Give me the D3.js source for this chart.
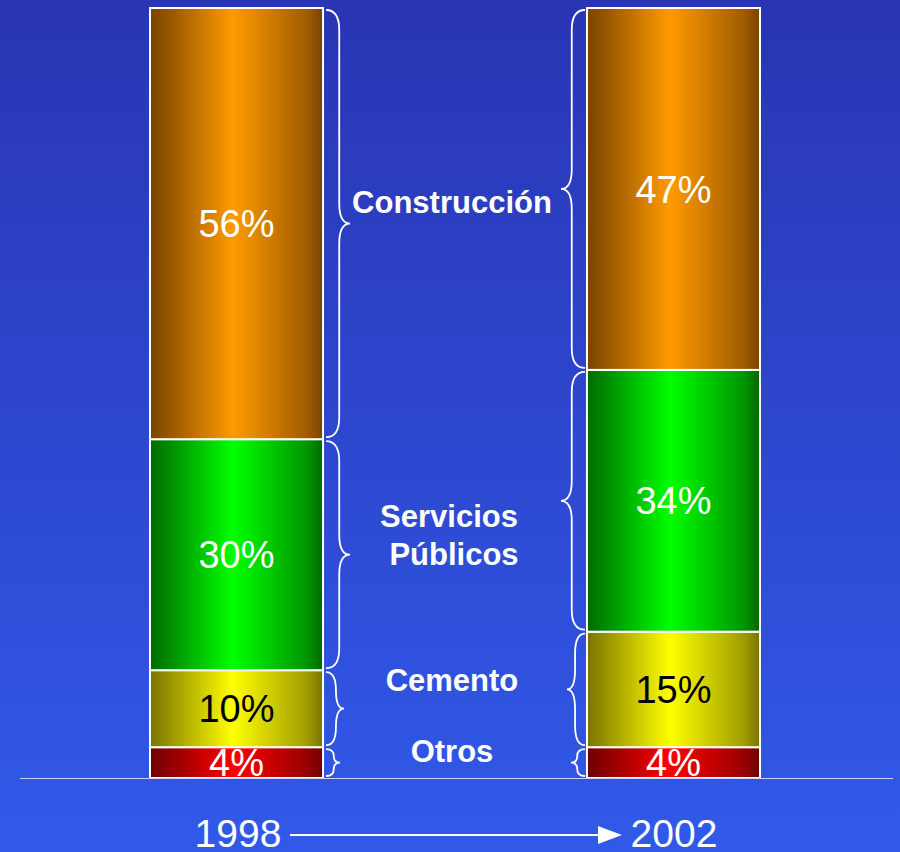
<!DOCTYPE html>
<html>
<head>
<meta charset="utf-8">
<script src="https://cdn.jsdelivr.net/npm/d3@7"></script>
<style>
  html, body { margin: 0; padding: 0; }
  body { width: 900px; height: 852px; overflow: hidden; }
  svg { display: block; font-family: "Liberation Sans", Arial, sans-serif; }
</style>
</head>
<body>
<div id="chart"></div>
<script>
// DATA
const years = ["1998", "2002"];
const categories = ["Otros", "Cemento", "Servicios Públicos", "Construcción"];
const values1998 = [4, 10, 30, 56];
const values2002 = [4, 15, 34, 47];
const labelLines = [["Otros"], ["Cemento"], ["Servicios", "Públicos"], ["Construcción"]];

// colours per category: [dark edge, bright centre, text colour]
const palette = {
  "Otros": ["#6e0000", "#ff0000", "#ffffff"],
  "Cemento": ["#7a7400", "#ffff00", "#000000"],
  "Servicios Públicos": ["#006a00", "#00ff00", "#ffffff"],
  "Construcción": ["#784400", "#ff9a00", "#ffffff"]
};

const W = 900, H = 852;
const svg = d3.select("#chart").append("svg")
  .attr("width", W).attr("height", H);
const defs = svg.append("defs");

// background
const bg = defs.append("linearGradient").attr("id", "bg")
  .attr("x1", 0).attr("y1", 0).attr("x2", 0).attr("y2", 1);
bg.append("stop").attr("offset", "0%").attr("stop-color", "#2935b3");
bg.append("stop").attr("offset", "100%").attr("stop-color", "#3159e9");
svg.append("rect").attr("width", W).attr("height", H).attr("fill", "url(#bg)");

// cylinder gradients
categories.forEach((c, i) => {
  const [dark, bright] = palette[c];
  const g = defs.append("linearGradient").attr("id", "grad" + i)
    .attr("x1", 0).attr("y1", 0).attr("x2", 1).attr("y2", 0);
  g.append("stop").attr("offset", "0%").attr("stop-color", dark);
  g.append("stop").attr("offset", "10%").attr("stop-color", d3.interpolateRgb(dark, bright)(0.2));
  g.append("stop").attr("offset", "48%").attr("stop-color", bright);
  g.append("stop").attr("offset", "90%").attr("stop-color", d3.interpolateRgb(dark, bright)(0.3));
  g.append("stop").attr("offset", "100%").attr("stop-color", dark);
});

// scales
const x = d3.scaleBand().domain(years).range([150, 760]).paddingInner(0.604).paddingOuter(0);
const y = d3.scaleLinear().domain([0, 100]).range([778, 8]);

defs.append("clipPath").attr("id", "base-clip")
  .append("rect").attr("x", 0).attr("y", 0).attr("width", W).attr("height", 778);

// stack each year's shares bottom-up
function stackYear(year) {
  const vals = year === "1998" ? values1998 : values2002;
  let acc = 0;
  return categories.map((c, i) => {
    const d = { year, cat: c, idx: i, v: vals[i], y0: acc, y1: acc + vals[i] };
    acc += vals[i];
    return d;
  });
}
const segments = years.flatMap(stackYear);

const barG = svg.append("g").attr("clip-path", "url(#base-clip)");

barG.selectAll(".seg").data(segments).join("rect")
  .attr("class", "seg")
  .attr("x", d => x(d.year))
  .attr("y", d => y(d.y1))
  .attr("width", x.bandwidth())
  .attr("height", d => y(d.y0) - y(d.y1))
  .attr("fill", d => "url(#grad" + d.idx + ")")
  .attr("stroke", "#ffffff")
  .attr("stroke-width", 2);

barG.selectAll(".pct").data(segments).join("text")
  .attr("class", "pct")
  .attr("x", d => x(d.year) + x.bandwidth() / 2)
  .attr("y", d => (y(d.y0) + y(d.y1)) / 2)
  .attr("dy", "0.36em")
  .attr("text-anchor", "middle")
  .attr("font-size", 38)
  .attr("fill", d => palette[d.cat][2])
  .text(d => d.v + "%");

// curly braces
function brace(xb, ya, yb, w, dir) {
  const ym = (ya + yb) / 2;
  const r = Math.min(20, (yb - ya) / 4);
  const xm = xb + dir * w * 0.55;
  const xt = xb + dir * w;
  return `M${xb},${ya}` +
    `Q${xm},${ya} ${xm},${ya + r}` +
    `L${xm},${ym - r}` +
    `Q${xm},${ym} ${xt},${ym}` +
    `Q${xm},${ym} ${xm},${ym + r}` +
    `L${xm},${yb - r}` +
    `Q${xm},${yb} ${xb},${yb}`;
}

svg.selectAll(".brace").data(segments).join("path")
  .attr("class", "brace")
  .attr("d", d => {
    const left = d.year === "1998";
    const xb = left ? x(d.year) + x.bandwidth() + 3 : x(d.year) - 2;
    const w = d.v < 8 ? 14 : (d.v < 20 ? 18 : 24);
    return brace(xb, y(d.y1) + 2, y(d.y0) - 2, w, left ? 1 : -1);
  })
  .attr("fill", "none")
  .attr("stroke", "#ffffff")
  .attr("stroke-width", 1.8);

// category labels between the bars
const labelY = [751, 680, 535, 202];
const midX = 452;
svg.selectAll(".cat").data(categories).join("text")
  .attr("class", "cat")
  .attr("text-anchor", "middle")
  .attr("font-size", 31)
  .attr("font-weight", "bold")
  .attr("fill", "#ffffff")
  .each(function (c, i) {
    const lines = labelLines[i];
    const t = d3.select(this);
    lines.forEach((ln, k) => {
      t.append("tspan")
        .attr("x", midX + (lines.length > 1 ? (k === 0 ? -3 : 2) : 0))
        .attr("y", labelY[i] + (k - (lines.length - 1) / 2) * 38)
        .attr("dy", "0.35em")
        .text(ln);
    });
  });

// baseline
svg.append("line")
  .attr("x1", 20).attr("x2", 893)
  .attr("y1", 778.5).attr("y2", 778.5)
  .attr("stroke", "#c8d2ff").attr("stroke-width", 1);

// years and arrow
svg.selectAll(".year").data(years).join("text")
  .attr("class", "year")
  .attr("x", (d, i) => i === 0 ? 238 : 674)
  .attr("y", 847)
  .attr("text-anchor", "middle")
  .attr("font-size", 39)
  .attr("fill", "#ffffff")
  .text(d => d);

svg.append("line")
  .attr("x1", 290).attr("x2", 600)
  .attr("y1", 835).attr("y2", 835)
  .attr("stroke", "#ffffff").attr("stroke-width", 2);
svg.append("path")
  .attr("d", "M598,826 L622,835 L598,844 Z")
  .attr("fill", "#ffffff");
</script>
</body>
</html>
